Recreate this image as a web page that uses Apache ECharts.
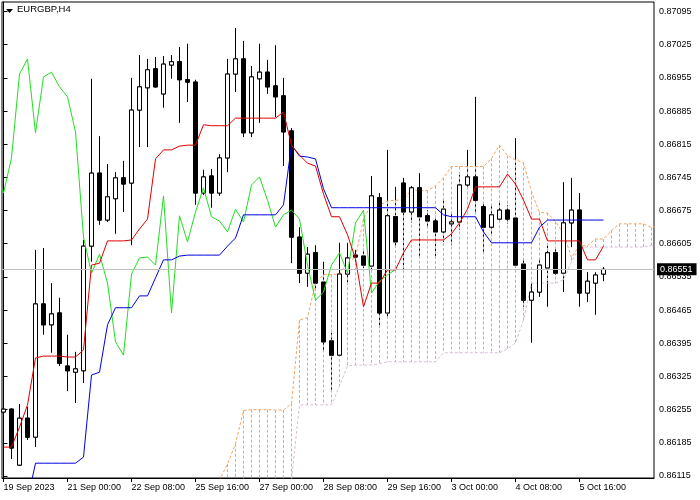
<!DOCTYPE html>
<html><head><meta charset="utf-8">
<script src="https://cdn.jsdelivr.net/npm/echarts@6/dist/echarts.min.js"></script>
<style>html,body{margin:0;padding:0;background:#fff}#c{width:700px;height:500px}</style>
</head><body><div id="c"></div>
<script>
const chartTitle = 'EURGBP,H4';
// H4 candles, index 0 = 19 Sep 2023 16:00
const openP = [0.86250,0.86256,0.86138,0.86237,0.86197,0.86478,0.86434,0.86459,0.86347,0.86334,
0.86337,0.86600,0.86754,0.86655,0.86700,0.86744,0.86733,0.86887,0.86934,0.86974,
0.86921,0.86982,0.86989,0.86951,0.86946,0.86712,0.86748,0.86712,0.86786,0.86963,
0.86995,0.86839,0.86953,0.86967,0.86938,0.86917,0.86843,0.86619,0.86543,0.86586,
0.86524,0.86400,0.86370,0.86541,0.86581,0.86579,0.86558,0.86702,0.86459,0.86662,
0.86733,0.86672,0.86723,0.86664,0.86653,0.86630,0.86647,0.86651,0.86729,0.86746,
0.86683,0.86640,0.86657,0.86676,0.86659,0.86562,0.86486,0.86503,0.86554,0.86586,
0.86543,0.86649,0.86676,0.86501,0.86522,0.86541];
const closeP = [0.86256,0.86174,0.86237,0.86197,0.86478,0.86434,0.86457,0.86353,0.86337,0.86341,
0.86600,0.86754,0.86655,0.86704,0.86744,0.86731,0.86887,0.86936,0.86972,0.86936,
0.86984,0.86989,0.86951,0.86946,0.86712,0.86746,0.86712,0.86786,0.86963,0.86995,
0.86839,0.86957,0.86967,0.86936,0.86915,0.86841,0.86619,0.86543,0.86583,0.86522,
0.86398,0.86370,0.86541,0.86575,0.86577,0.86560,0.86706,0.86459,0.86664,0.86609,
0.86672,0.86723,0.86662,0.86653,0.86630,0.86678,0.86651,0.86729,0.86746,0.86697,
0.86640,0.86666,0.86676,0.86657,0.86560,0.86486,0.86503,0.86560,0.86586,0.86543,
0.86649,0.86676,0.86501,0.86526,0.86539,0.86551];
const lowP = [0.86246,0.86151,0.86136,0.86191,0.86176,0.86413,0.86375,0.86347,0.86294,0.86269,
0.86311,0.86567,0.86645,0.86651,0.86626,0.86672,0.86602,0.86809,0.86809,0.86934,
0.86892,0.86953,0.86860,0.86904,0.86687,0.86708,0.86681,0.86706,0.86756,0.86925,
0.86830,0.86830,0.86860,0.86921,0.86872,0.86769,0.86564,0.86522,0.86514,0.86507,
0.86377,0.86297,0.86366,0.86524,0.86567,0.86554,0.86545,0.86427,0.86448,0.86598,
0.86550,0.86649,0.86577,0.86638,0.86577,0.86609,0.86602,0.86634,0.86723,0.86672,
0.86586,0.86624,0.86651,0.86647,0.86554,0.86472,0.86396,0.86493,0.86472,0.86539,
0.86503,0.86598,0.86472,0.86482,0.86455,0.86526];
const highP = [0.86269,0.86258,0.86267,0.86261,0.86592,0.86596,0.86522,0.86491,0.86413,0.86377,
0.86613,0.86953,0.86832,0.86773,0.86756,0.86780,0.86955,0.87003,0.86995,0.86999,
0.87001,0.87003,0.87020,0.87027,0.86951,0.86761,0.86763,0.86794,0.86995,0.87060,
0.87033,0.86980,0.87027,0.86993,0.87024,0.86955,0.86849,0.86640,0.86598,0.86602,
0.86567,0.86417,0.86607,0.86607,0.86592,0.86592,0.86748,0.86712,0.86803,0.86725,
0.86744,0.86727,0.86754,0.86676,0.86664,0.86697,0.86672,0.86750,0.86803,0.86915,
0.86691,0.86687,0.86693,0.86687,0.86828,0.86571,0.86522,0.86571,0.86602,0.86596,
0.86735,0.86744,0.86712,0.86545,0.86545,0.86556];
// Ichimoku lines
const tenkan = [0.86176,0.86176,0.86218,0.86265,0.86364,0.86368,0.86368,0.86368,0.86366,0.86366,
0.86381,0.86560,0.86564,0.86611,0.86611,0.86611,0.86613,0.86636,0.86657,0.86784,
0.86803,0.86803,0.86811,0.86813,0.86813,0.86856,0.86854,0.86854,0.86854,0.86870,
0.86870,0.86870,0.86870,0.86870,0.86870,0.86883,0.86813,0.86792,0.86775,0.86769,
0.86710,0.86662,0.86662,0.86624,0.86573,0.86472,0.86522,0.86522,0.86550,0.86550,
0.86586,0.86613,0.86613,0.86613,0.86613,0.86613,0.86626,0.86649,0.86678,0.86725,
0.86725,0.86725,0.86725,0.86752,0.86731,0.86697,0.86657,0.86657,0.86611,0.86611,
0.86611,0.86611,0.86611,0.86571,0.86571,0.86600];
const kijun = [0.86064,0.86064,0.86064,0.86064,0.86142,0.86142,0.86142,0.86142,0.86142,0.86142,
0.86155,0.86328,0.86334,0.86434,0.86470,0.86470,0.86470,0.86495,0.86495,0.86533,
0.86571,0.86571,0.86579,0.86581,0.86581,0.86581,0.86581,0.86581,0.86600,0.86617,
0.86666,0.86666,0.86666,0.86666,0.86666,0.86687,0.86813,0.86790,0.86788,0.86784,
0.86721,0.86681,0.86681,0.86681,0.86681,0.86681,0.86681,0.86681,0.86681,0.86681,
0.86681,0.86681,0.86681,0.86681,0.86681,0.86666,0.86662,0.86662,0.86662,0.86662,
0.86630,0.86607,0.86607,0.86607,0.86607,0.86607,0.86607,0.86640,0.86655,0.86655,
0.86655,0.86655,0.86655,0.86655,0.86655,0.86655];
const kumoShift = 26;   // spans drawn from bar 26 on
const spanA = [0.86090,0.86107,0.86140,0.86183,0.86253,0.86255,0.86255,0.86255,0.86254,0.86254,
0.86268,0.86444,0.86449,0.86522,0.86540,0.86540,0.86541,0.86566,0.86576,0.86658,
0.86687,0.86687,0.86695,0.86697,0.86697,0.86719,0.86717,0.86717,0.86727,0.86744,
0.86768,0.86768,0.86768,0.86768,0.86768,0.86785,0.86813,0.86791,0.86782,0.86776,
0.86715,0.86671,0.86670,0.86652,0.86627,0.86576,0.86601,0.86601,0.86615,0.86615,
0.86633,0.86647,0.86647,0.86647,0.86647,0.86639,0.86644];
const spanB = [0.86064,0.86064,0.86064,0.86064,0.86064,0.86064,0.86064,0.86064,0.86064,0.86064,
0.86107,0.86265,0.86265,0.86265,0.86265,0.86265,0.86305,0.86347,0.86349,0.86349,
0.86349,0.86352,0.86356,0.86356,0.86356,0.86356,0.86356,0.86356,0.86356,0.86375,
0.86375,0.86375,0.86375,0.86375,0.86375,0.86375,0.86375,0.86383,0.86396,0.86444,
0.86522,0.86522,0.86522,0.86522,0.86529,0.86567,0.86598,0.86598,0.86598,0.86598,
0.86598,0.86598,0.86598,0.86598,0.86598,0.86602,0.86598];
const chikouShift = 26;
const lastPrice = 0.86551;
const yTicks = [0.86115,0.86185,0.86255,0.86325,0.86395,0.86465,0.86535,0.86605,0.86675,0.86745,0.86815,0.86885,0.86955,0.87025,0.87095];
const xTickIndex = [0,8,16,24,32,40,48,56,64,72];
const xTickLabels = ['19 Sep 2023','21 Sep 00:00','22 Sep 08:00','25 Sep 16:00','27 Sep 00:00','28 Sep 08:00','29 Sep 16:00','3 Oct 00:00','4 Oct 08:00','5 Oct 16:00'];

const FONT = 'Liberation Sans, Arial, sans-serif';
const SANDY = '#F4A460', THISTLE = '#D8BFD8';

const full = openP.map((o, i) => [i, o, closeP[i], lowP[i], highP[i]]);
const bodies = openP.map((o, i) => [i, o, closeP[i], Math.min(o, closeP[i]), Math.max(o, closeP[i])]);
const tenkanData = tenkan.map((v, i) => [i, v]);
const kijunData = kijun.map((v, i) => [i, v]);
const chikouData = [];
for (let i = chikouShift - 1; i < closeP.length; i++) chikouData.push([i - chikouShift, closeP[i]]);
const spanAData = spanA.map((v, k) => [k + kumoShift, v]);
const spanBData = spanB.map((v, k) => [k + kumoShift, v]);
// kumo histogram: one vertical segment per bar between span A and span B, split by colour
const kumoUp = [], kumoDown = [];
spanA.forEach((a, k) => {
  const b = spanB[k], x = k + kumoShift;
  const target = a >= b ? kumoUp : kumoDown;
  target.push([x, a], [x, b], [x, null]);
});
const bidData = [[closeP.length - 1, lastPrice]];

const candleStyle = {color: '#ffffff', color0: '#000000', borderColor: '#000000', borderColor0: '#000000', borderColorDoji: '#000000', borderWidth: 1};

const chart = echarts.init(document.getElementById('c'), null, {renderer: 'canvas'});
chart.setOption({
  animation: false,
  backgroundColor: '#ffffff',
  title: {text: chartTitle, left: 17, top: 4, padding: 0,
    textStyle: {fontSize: 9.5, fontWeight: 'normal', color: '#000', fontFamily: FONT}},
  graphic: [{type: 'polygon', shape: {points: [[6, 9], [13, 9], [9.5, 13]]}, style: {fill: '#000'}}],
  grid: {left: 2, top: 2, width: 652, height: 476, show: true, borderColor: '#000', borderWidth: 1, backgroundColor: '#fff'},
  xAxis: {type: 'value', min: -0.1875, max: 81.3125,
    axisLine: {show: true, lineStyle: {color: '#000', width: 1}},
    axisTick: {show: true, length: 4, inside: false, customValues: xTickIndex, lineStyle: {color: '#000'}},
    axisLabel: {show: true, customValues: xTickIndex, align: 'left', margin: 5, fontSize: 9, color: '#000', fontFamily: FONT,
      formatter: v => xTickLabels[xTickIndex.indexOf(Math.round(v))] || ''},
    splitLine: {show: false}},
  yAxis: {type: 'value', position: 'right', min: 0.8611078, max: 0.8711504, scale: true,
    axisLine: {show: true, lineStyle: {color: '#000', width: 1}},
    axisTick: {show: true, length: 4, inside: false, customValues: yTicks, lineStyle: {color: '#000'}},
    axisLabel: {show: true, customValues: yTicks, margin: 5, fontSize: 9, color: '#000', fontFamily: FONT,
      formatter: v => v.toFixed(5)},
    splitLine: {show: false}},
  series: [
    {type: 'line', name: 'bid', z: 1, data: bidData, symbol: 'none', silent: true,
      lineStyle: {opacity: 0},
      markLine: {silent: true, symbol: ['none', 'none'], animation: false, precision: 5,
        data: [{yAxis: lastPrice}],
        lineStyle: {color: '#c0c0c0', type: 'solid', width: 1},
        label: {show: true, position: 'end', distance: 3, formatter: lastPrice.toFixed(5),
          color: '#fff', backgroundColor: '#000', padding: [2, 4, 1, 3], fontSize: 9, fontFamily: FONT}}},
    {type: 'candlestick', name: 'wicks', z: 1, data: full, barWidth: 4, itemStyle: candleStyle, silent: true},
    {type: 'line', name: 'kumoUp', z: 2, data: kumoUp, symbol: 'none', silent: true, connectNulls: false,
      lineStyle: {color: SANDY, width: 1, type: [3, 2]}},
    {type: 'line', name: 'kumoDown', z: 2, data: kumoDown, symbol: 'none', silent: true, connectNulls: false,
      lineStyle: {color: THISTLE, width: 1, type: [3, 2]}},
    {type: 'line', name: 'spanA', z: 2, data: spanAData, symbol: 'none', silent: true,
      lineStyle: {color: SANDY, width: 1, type: [3, 2]}},
    {type: 'line', name: 'spanB', z: 2, data: spanBData, symbol: 'none', silent: true,
      lineStyle: {color: THISTLE, width: 1, type: [3, 2]}},
    {type: 'candlestick', name: 'bodies', z: 3, data: bodies, barWidth: 4, itemStyle: candleStyle, silent: true},
    {type: 'line', name: 'chikou', z: 4, data: chikouData, symbol: 'none', silent: true,
      lineStyle: {color: '#22dd22', width: 1}},
    {type: 'line', name: 'kijun', z: 4, data: kijunData, symbol: 'none', silent: true,
      lineStyle: {color: '#0000dd', width: 1}},
    {type: 'line', name: 'tenkan', z: 4, data: tenkanData, symbol: 'none', silent: true,
      lineStyle: {color: '#dd0000', width: 1}}
  ]
});
</script></body></html>
